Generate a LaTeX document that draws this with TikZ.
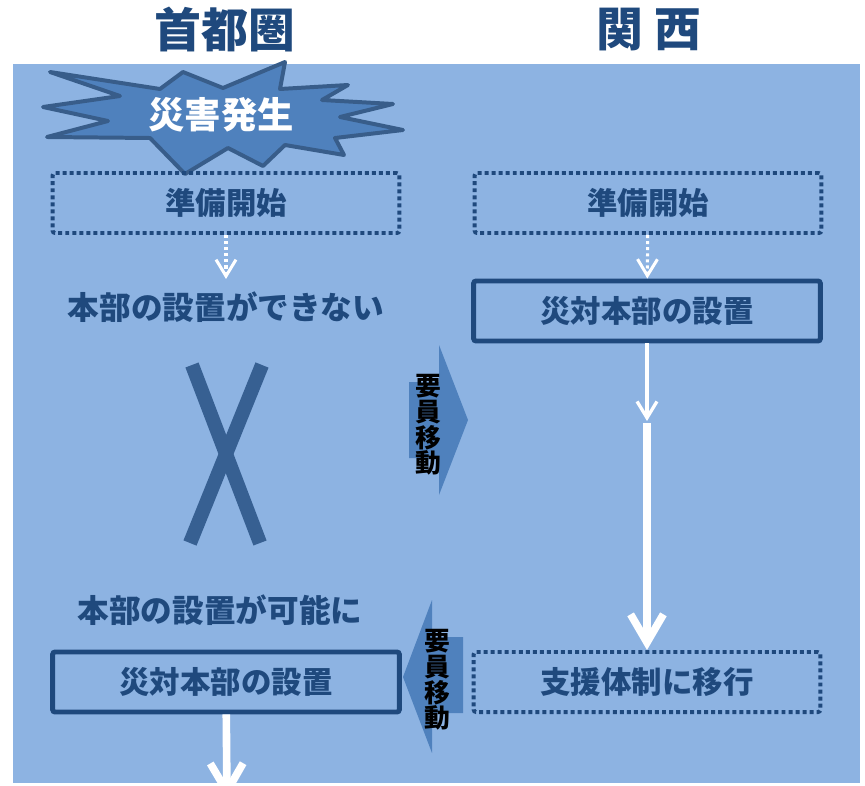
\documentclass[tikz,border=0pt]{standalone}
\usepackage{fontspec}
\setmainfont{Noto Sans CJK JP}
\usetikzlibrary{arrows.meta}
\definecolor{bgblue}{HTML}{8DB3E2}
\definecolor{navy}{HTML}{1F497D}
\definecolor{starfill}{HTML}{4F81BD}
\definecolor{staredge}{HTML}{385D8A}
\definecolor{crossblue}{HTML}{376092}

\begin{document}
\begin{tikzpicture}[
    x=0.03cm, y=-0.03cm,
    headline/.style = {text=navy, font=\fontsize{40}{40}\selectfont\bfseries},
    note/.style = {text=navy, font=\fontsize{27}{27}\selectfont\bfseries},
    box/.style = {rectangle, rounded corners=2pt, draw=navy, note,
                  font=\fontsize{26}{26}\selectfont\bfseries,
                  minimum width=10.4cm, minimum height=1.8cm},
    dotbox/.style = {box, line width=3.4pt, dash pattern=on 3.4pt off 2.6pt},
    solidbox/.style = {box, line width=4.2pt},
    dotarrow/.style = {white, line width=2.6pt, dash pattern=on 2.6pt off 2.6pt,
                       -{Straight Barb[length=14pt,width=17pt]}},
    thinarrow/.style = {white, line width=2.8pt, -{Straight Barb[length=14pt,width=17pt]}},
    bigarrow/.style = {white, line width=6.5pt, -{Straight Barb[length=24pt,width=28pt]}},
    movetext/.style = {align=center, text=black, inner sep=0pt,
                       font=\fontsize{22}{22}\selectfont\bfseries}
  ]
    \useasboundingbox (0,0) rectangle (865,786);
    \clip (0,0) rectangle (865,786);
    \fill[bgblue] (13,64) rectangle (860,783);

    % titles
    \node[headline] (ltitle) at (225,30) {首都圏};
    \node[headline] (rtitle) at (649,30) {関 西};

    % starburst
    \filldraw[fill=starfill, draw=staredge, line width=3.4pt, line join=round]
      (50,72) -- (160,89) -- (183,72) -- (223,88) -- (285,62) -- (280,89)
      -- (348,85) -- (322,100) -- (393,104) -- (340,117) -- (403,130)
      -- (335,138) -- (344,155) -- (285,145) -- (263,166) -- (228,148)
      -- (185,174) -- (150,138) -- (47,137) -- (108,121) -- (43,107)
      -- (120,96) -- cycle;
    \node[text=white, font=\fontsize{31}{31}\selectfont\bfseries] (quake) at (221,115) {災害発生};

    % boxes
    \node[dotbox]   (lprep) at (226,203) {準備開始};
    \node[dotbox]   (rprep) at (648,203) {準備開始};
    \node[solidbox] (rhq)   at (647,311) {災対本部の設置};
    \node[note]     (lnone) at (226,307) {本部の設置ができない};
    \node[note]     (lok)   at (220,610) {本部の設置が可能に};
    \node[solidbox] (lhq)   at (226,682) {災対本部の設置};
    \node[dotbox]   (rsup)  at (647,682) {支援体制に移行};

    % cross
    \draw[crossblue, line width=12pt] (192,365) -- (260,543);
    \draw[crossblue, line width=12pt] (262,365) -- (190,543);

    % staff moves
    \fill[starfill] (409,382) -- (439,382) -- (439,345) -- (468,420)
      -- (439,495) -- (439,458) -- (409,458) -- cycle;
    \node[movetext] (move1) at (428,425) {要\\員\\移\\動};
    \fill[starfill] (463,637) -- (432,637) -- (432,600) -- (403,677)
      -- (432,753) -- (432,713) -- (463,713) -- cycle;
    \node[movetext] (move2) at (437,680) {要\\員\\移\\動};

    % flow
    \coordinate (lstop) at (226,279);
    \coordinate (rmid)  at (647,421);
    \coordinate (rgo)   at (647,423);
    \coordinate (lend)  at (227,799);
    \draw[dotarrow] (lprep) -- (lstop);
    \draw[dotarrow] (rprep) -- (rhq);
    \draw[thinarrow] (rhq) -- (rmid);
    \draw[bigarrow] (rgo) -- (rsup);
    \draw[bigarrow] (lhq) -- (lend);
  \end{tikzpicture}
\end{document}
